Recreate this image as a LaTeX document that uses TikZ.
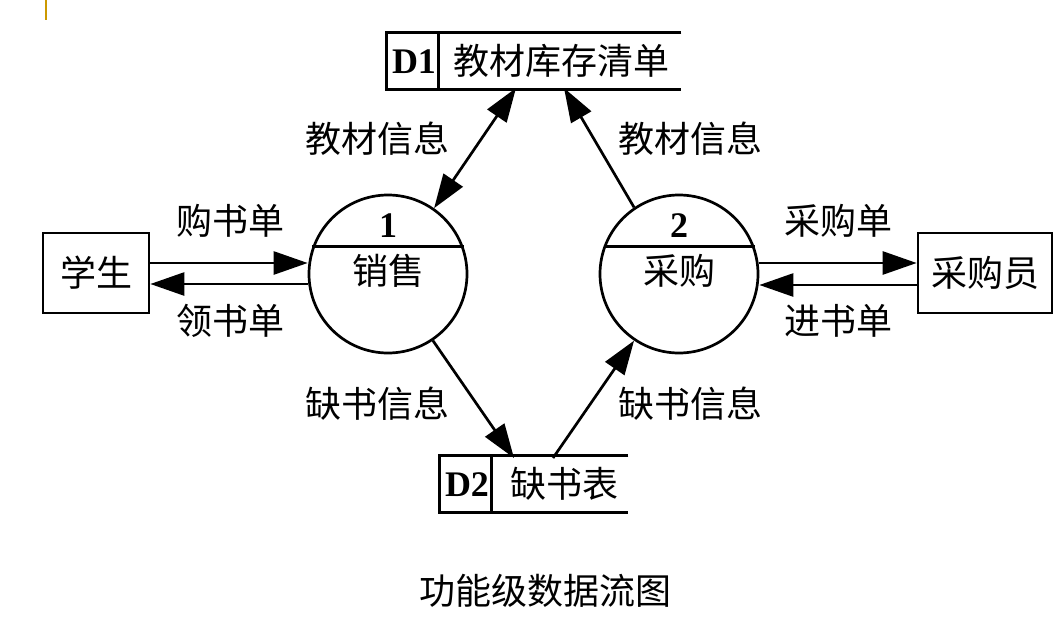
\documentclass[tikz,border=0pt]{standalone}
\usepackage{fontspec}
\setmainfont{Liberation Serif}
\newfontfamily\cjk{Noto Sans CJK SC}
\usetikzlibrary{arrows.meta,calc}
\begin{document}
\begin{tikzpicture}[x=1pt,y=-1pt,
  line width=2.7pt,
  txt/.style={font=\cjk\fontsize{36}{40}\selectfont, inner sep=0pt},
  num/.style={font=\bfseries\fontsize{36}{40}\selectfont, inner sep=0pt},
  entity/.style={draw, minimum width=#1, minimum height=80pt, inner sep=0pt, font=\cjk\fontsize{36}{40}\selectfont},
  proc/.style={draw, circle, minimum size=158pt, inner sep=0pt},
  store/.style={minimum width=#1, minimum height=54pt, inner sep=0pt},
  flow/.style={-{Triangle[length=34pt,width=23pt]}},
  bflow/.style={{Triangle[length=34pt,width=23pt]}-{Triangle[length=34pt,width=23pt]}}
]
\useasboundingbox (0,0) rectangle (1063,640);
% small accent mark at the top edge
\draw[color={rgb,255:red,204;green,153;blue,0}, line width=2.5pt] (46,0) -- (46,20);

% external entities
\node[entity=106pt] (stu) at (96,273) {学生};
\node[entity=134pt] (buyer) at (985,273) {采购员};

% processes
\node[proc] (p1) at (388,274) {};
\draw (p1.160) -- (p1.20);
\node[num] (p1n) at (388,226) {1};
\node[txt] (p1t) at (388,271) {销售};

\node[proc] (p2) at (679,274) {};
\draw (p2.160) -- (p2.20);
\node[num] (p2n) at (679,226) {2};
\node[txt] (p2t) at (679,271) {采购};

% data stores (open on the right)
\node[store=292pt] (d1) at (534,61) {};
\draw (d1.north east) -- (d1.north west) -- (d1.south west) -- (d1.south east);
\draw ($(d1.north west)+(52,0)$) coordinate (d1div) -- (d1div |- d1.south);
\node[num] (d1id) at (414,62) {D1};
\node[txt] (d1t) at (561,61) {教材库存清单};

\node[store=186pt] (d2) at (534,484) {};
\draw (d2.north east) -- (d2.north west) -- (d2.south west) -- (d2.south east);
\draw ($(d2.north west)+(52,0)$) coordinate (d2div) -- (d2div |- d2.south);
\node[num] (d2id) at (467,485) {D2};
\node[txt] (d2t) at (564,484) {缺书表};

% attachment points on the stores
\coordinate (d1a) at (516,88);
\coordinate (d1b) at (564,88);
\coordinate (d2a) at (514,458);
\coordinate (d2b) at (553,458);

% flows with the students
\draw[flow] (stu.east |- 0,263) coordinate (s1) -- (s1 -| p1.west);
\draw[flow] (p1.west |- 0,284) coordinate (s2) -- (s2 -| stu.east);
\node[txt] (l1) at (230,221) {购书单};
\node[txt] (l2) at (230,321) {领书单};

% flows with the purchaser
\draw[flow] (p2.east |- 0,263) coordinate (b1) -- (b1 -| buyer.west);
\draw[flow] (buyer.west |- 0,285) coordinate (b2) -- (b2 -| p2.east);
\node[txt] (l3) at (838,221) {采购单};
\node[txt] (l4) at (838,321) {进书单};

% flows with the stores
\draw[bflow] (p1.55) -- (d1a);
\draw[flow] (p2.124) -- (d1b);
\draw[flow] (p1.-56) -- (d2a);
\draw[flow] (d2b) -- (p2.-124);
\node[txt] (l5) at (377,139) {教材信息};
\node[txt] (l6) at (690,139) {教材信息};
\node[txt] (l7) at (377,404) {缺书信息};
\node[txt] (l8) at (690,404) {缺书信息};

% caption
\node[txt] (cap) at (545,591) {功能级数据流图};
\end{tikzpicture}
\end{document}
